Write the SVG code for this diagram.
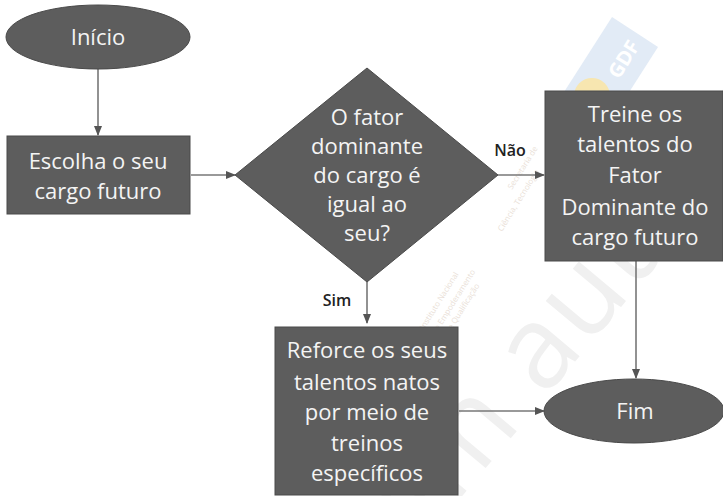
<svg xmlns="http://www.w3.org/2000/svg" width="723" height="496" viewBox="0 0 723 496">
<style>
.n{fill:#5d5d5d;stroke:#4a4a4a;stroke-width:1}
.t{font-family:"Open Sans","Noto Sans",sans-serif;font-size:22px;fill:#f4f4f4;text-anchor:middle}
.l{font-family:"Open Sans","Noto Sans",sans-serif;font-size:16px;font-weight:600;fill:#222;text-anchor:middle}
.c{fill:none;stroke:#777;stroke-width:1.6;marker-end:url(#a)}
.w{font-family:"Open Sans","Noto Sans",sans-serif;font-weight:400;fill:#f0f0f0}
.s{font-family:"Open Sans","Noto Sans",sans-serif;font-size:8px;fill:#eadfd8}
</style>
<defs><marker id="a" markerWidth="10" markerHeight="8" refX="9" refY="4" orient="auto" markerUnits="userSpaceOnUse"><path d="M0 0L10 4L0 8Z" fill="#555"/></marker></defs>
<rect width="723" height="496" fill="#fff"/>
<g id="watermark">
<text class="w" font-size="115" letter-spacing="2" transform="translate(375 600) rotate(-50)">sem autoriza</text>
<polygon points="612,17 658,47 603,133 557,103" fill="#e2ebf6"/>
<circle cx="592" cy="96" r="18" fill="#f7e6b0"/>
<text x="0" y="0" font-family="Open Sans,sans-serif" font-weight="700" font-size="20" fill="#fff" transform="translate(619 80) rotate(-58)">GDF</text>
<text class="s" transform="translate(512 190) rotate(-58)">Secretaria de</text>
<text class="s" transform="translate(502 232) rotate(-58)">Ciência, Tecnologia</text>
<text class="s" transform="translate(424 330) rotate(-58)">Instituto Nacional</text>
<text class="s" transform="translate(436 335) rotate(-58)">de Empoderamento</text>
<text class="s" transform="translate(452 330) rotate(-58)">e Qualificação</text>
</g>
<g id="connectors">
<path class="c" d="M98 69V135"/>
<path class="c" d="M191 175H235"/>
<path class="c" d="M498 175H544"/>
<path class="c" d="M367 282V323"/>
<path class="c" d="M459 411H544"/>
<path class="c" d="M636 261V378"/>
</g>
<g id="inicio"><ellipse class="n" cx="98" cy="37" rx="92" ry="32"/><text class="t" x="98" y="45">Início</text></g>
<g id="escolha"><rect class="n" x="7" y="136" width="183" height="78"/><text class="t" x="98" y="169">Escolha o seu</text><text class="t" x="98" y="199">cargo futuro</text></g>
<g id="decisao"><polygon class="n" points="367,68 498,175 367,282 235,175"/><text class="t" x="367" y="125">O fator</text><text class="t" x="367" y="154">dominante</text><text class="t" x="367" y="183">do cargo é</text><text class="t" x="367" y="212">igual ao</text><text class="t" x="367" y="241">seu?</text></g>
<g id="treine"><rect class="n" x="545" y="91" width="178" height="170"/><text class="t" x="635" y="122">Treine os</text><text class="t" x="635" y="152">talentos do</text><text class="t" x="635" y="183">Fator</text><text class="t" x="635" y="215">Dominante do</text><text class="t" x="635" y="245">cargo futuro</text></g>
<g id="reforce"><rect class="n" x="275" y="327" width="183" height="168"/><text class="t" x="367" y="358">Reforce os seus</text><text class="t" x="367" y="390">talentos natos</text><text class="t" x="367" y="420">por meio de</text><text class="t" x="367" y="451">treinos</text><text class="t" x="367" y="481">específicos</text></g>
<g id="fim"><ellipse class="n" cx="634" cy="411" rx="90" ry="32"/><text class="t" x="635" y="419">Fim</text></g>
<text class="l" x="510" y="156">Não</text>
<text class="l" x="337" y="306">Sim</text>
</svg>
